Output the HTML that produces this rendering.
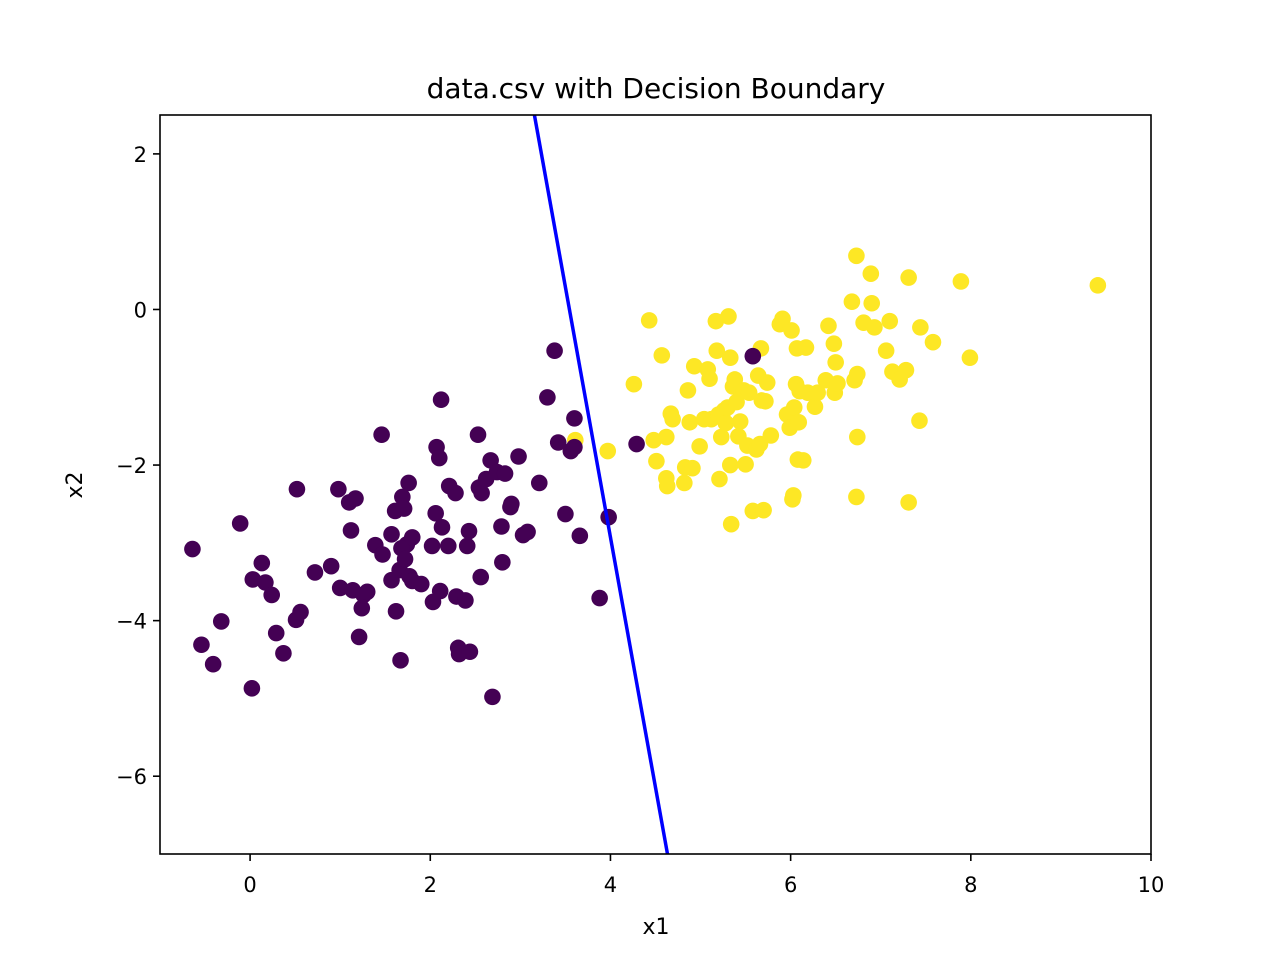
<!DOCTYPE html>
<html><head><meta charset="utf-8"><style>
html,body{margin:0;padding:0;background:#fff;width:1280px;height:960px;overflow:hidden}
text{font-family:"DejaVu Sans","Liberation Sans",sans-serif;fill:#000}
</style></head><body>
<svg id="chart" width="1280" height="960" xmlns="http://www.w3.org/2000/svg">
<rect width="1280" height="960" fill="#fff"/>
<text x="656" y="98" font-size="28" text-anchor="middle">data.csv with Decision Boundary</text>
<g id="marks"></g>
<rect x="160" y="115" width="991" height="739" fill="none" stroke="#000" stroke-width="1.6"/>
<g id="ticks"></g>
<text x="656" y="934" font-size="22" text-anchor="middle">x1</text>
<text x="82" y="485" font-size="22" text-anchor="middle" transform="rotate(-90 82 485)">x2</text>
</svg>
<script>
const purpleX=[-0.64,-0.54,-0.41,-0.32,-0.11,0.02,0.03,0.13,0.17,0.24,0.29,0.37,0.51,0.56,0.52,0.72,0.90,0.98,1.00,1.10,1.12,1.17,1.14,1.21,1.24,1.26,1.30,1.39,1.46,1.47,1.57,1.57,1.61,1.62,1.66,1.67,1.69,1.71,1.74,1.76,1.68,1.72,1.77,1.80,1.80,1.90,2.02,2.03,2.06,2.07,2.10,2.12,2.13,2.11,2.20,2.21,2.28,2.29,2.31,2.32,2.39,2.41,2.43,2.44,2.53,2.54,2.56,2.57,2.62,2.67,2.69,2.74,2.79,2.80,2.83,2.89,2.90,2.98,3.03,3.08,3.21,3.30,3.38,3.42,3.50,3.56,3.60,3.60,3.66,3.88,3.98,4.29,5.58];
const purpleY=[-3.08,-4.31,-4.56,-4.01,-2.75,-4.87,-3.47,-3.26,-3.51,-3.67,-4.16,-4.42,-3.99,-3.89,-2.31,-3.38,-3.30,-2.31,-3.58,-2.48,-2.84,-2.43,-3.61,-4.21,-3.84,-3.67,-3.63,-3.03,-1.61,-3.15,-3.48,-2.89,-2.59,-3.88,-3.35,-4.51,-2.41,-2.56,-3.02,-2.23,-3.07,-3.21,-3.43,-3.49,-2.93,-3.53,-3.04,-3.76,-2.62,-1.77,-1.91,-1.16,-2.80,-3.62,-3.04,-2.27,-2.36,-3.69,-4.35,-4.43,-3.74,-3.04,-2.85,-4.40,-1.61,-2.29,-3.44,-2.36,-2.18,-1.94,-4.98,-2.09,-2.79,-3.25,-2.11,-2.54,-2.50,-1.89,-2.90,-2.86,-2.23,-1.13,-0.53,-1.71,-2.63,-1.82,-1.40,-1.77,-2.91,-3.71,-2.67,-1.73,-0.60];
const yellowX=[3.61,3.97,4.26,4.43,4.48,4.51,4.57,4.62,4.62,4.63,4.67,4.69,4.82,4.83,4.86,4.88,4.91,4.93,4.99,5.04,5.08,5.10,5.12,5.17,5.18,5.20,5.21,5.23,5.26,5.28,5.30,5.31,5.33,5.33,5.34,5.36,5.38,5.40,5.42,5.44,5.48,5.50,5.52,5.54,5.58,5.62,5.64,5.66,5.67,5.68,5.70,5.72,5.74,5.78,5.88,5.91,5.96,5.99,6.01,6.02,6.03,6.04,6.06,6.07,6.08,6.09,6.10,6.14,6.17,6.19,6.27,6.30,6.39,6.42,6.48,6.49,6.50,6.52,6.68,6.71,6.73,6.74,6.74,6.73,6.81,6.89,6.90,6.93,7.06,7.10,7.13,7.21,7.28,7.31,7.31,7.43,7.44,7.58,7.89,7.99,9.41];
const yellowY=[-1.68,-1.82,-0.96,-0.14,-1.68,-1.95,-0.59,-1.64,-2.17,-2.27,-1.34,-1.41,-2.23,-2.03,-1.04,-1.45,-2.04,-0.73,-1.76,-1.41,-0.77,-0.89,-1.41,-0.15,-0.53,-1.35,-2.18,-1.64,-1.30,-1.46,-1.26,-0.09,-0.62,-2.00,-2.76,-0.99,-0.90,-1.19,-1.63,-1.44,-1.04,-1.99,-1.75,-1.07,-2.59,-1.80,-0.85,-1.73,-0.50,-1.17,-2.58,-1.18,-0.94,-1.62,-0.19,-0.12,-1.35,-1.52,-0.27,-2.44,-2.39,-1.26,-0.96,-0.50,-1.93,-1.45,-1.05,-1.94,-0.49,-1.07,-1.25,-1.07,-0.91,-0.21,-0.44,-1.07,-0.68,-0.95,0.10,-0.91,0.69,-0.83,-1.64,-2.41,-0.17,0.46,0.08,-0.23,-0.53,-0.15,-0.80,-0.90,-0.78,0.41,-2.48,-1.43,-0.23,-0.42,0.36,-0.62,0.31];
const boundaryX=[3.156,4.633];
const boundaryY=[2.5,-7];
const xTicks=[0,2,4,6,8,10];
const yTicks=[2,0,-2,-4,-6];

const L=160,R=1151,T=115,B=854,X0=-1,X1=10,Y0=-7,Y1=2.5;
const sx=v=>L+(v-X0)/(X1-X0)*(R-L);
const sy=v=>B-(v-Y0)/(Y1-Y0)*(B-T);
const NS='http://www.w3.org/2000/svg';
const marks=document.getElementById('marks');
const ticks=document.getElementById('ticks');
function dot(x,y,fill,name){
  const c=document.createElementNS(NS,'circle');
  c.setAttribute('cx',sx(x));c.setAttribute('cy',sy(y));c.setAttribute('r',8.3);c.setAttribute('fill',fill);
  
  
  marks.appendChild(c);
}
for(let i=0;i<yellowX.length;i++) dot(yellowX[i],yellowY[i],'#fde725','point-class-1');
for(let i=0;i<purpleX.length;i++) dot(purpleX[i],purpleY[i],'#440154','point-class-0');
const ln=document.createElementNS(NS,'line');
ln.setAttribute('x1',sx(boundaryX[0]));ln.setAttribute('y1',sy(boundaryY[0]));
ln.setAttribute('x2',sx(boundaryX[1]));ln.setAttribute('y2',sy(boundaryY[1]));
ln.setAttribute('stroke','#0000ff');ln.setAttribute('stroke-width','3.5');


marks.appendChild(ln);
const fmt=v=>v<0?'\u2212'+(-v):''+v;
xTicks.forEach(v=>{
  const t=document.createElementNS(NS,'line');
  t.setAttribute('x1',sx(v));t.setAttribute('x2',sx(v));t.setAttribute('y1',B);t.setAttribute('y2',B+7);t.setAttribute('stroke','#000');t.setAttribute('stroke-width','1.6');
  
  
  ticks.appendChild(t);
  const s=document.createElementNS(NS,'text');
  s.setAttribute('x',sx(v));s.setAttribute('y',B+38);s.setAttribute('font-size','21');s.setAttribute('text-anchor','middle');
  s.textContent=fmt(v);
  
  
  ticks.appendChild(s);
});
yTicks.forEach(v=>{
  const t=document.createElementNS(NS,'line');
  t.setAttribute('x1',L-7);t.setAttribute('x2',L);t.setAttribute('y1',sy(v));t.setAttribute('y2',sy(v));t.setAttribute('stroke','#000');t.setAttribute('stroke-width','1.6');
  
  
  ticks.appendChild(t);
  const s=document.createElementNS(NS,'text');
  s.setAttribute('x',L-13);s.setAttribute('y',sy(v)+8);s.setAttribute('font-size','21');s.setAttribute('text-anchor','end');
  s.textContent=fmt(v);
  
  
  ticks.appendChild(s);
});
</script>
</body></html>
